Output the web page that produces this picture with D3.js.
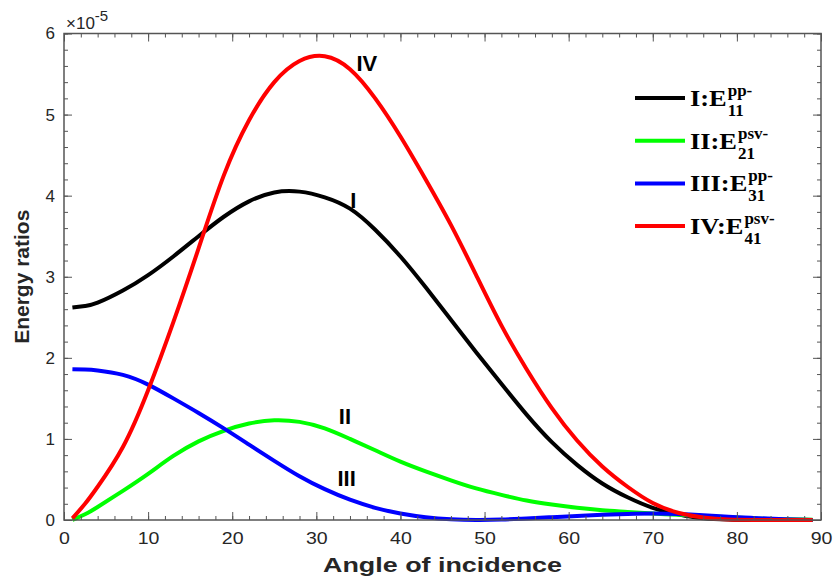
<!DOCTYPE html>
<html>
<head>
<meta charset="utf-8">
<script src="https://cdn.jsdelivr.net/npm/d3@7"></script>
<style>
  body { margin: 0; background: #fff; }
  svg { display: block; }
</style>
</head>
<body>
<div id="chart"></div>
<script>
/* global d3 */

// angle of incidence (degrees)
const angles = [1, 2.5, 4, 7, 10, 13, 16, 19, 22, 25, 28, 31, 34, 37, 40, 43, 46, 49, 52, 55, 58,
                61, 64, 67, 70, 73, 76, 79, 82, 85, 88, 89];

// energy ratios, units of 1e-5
const seriesI   = [2.62, 2.64, 2.68, 2.83, 3.02, 3.25, 3.5, 3.74, 3.93, 4.04, 4.05, 3.98, 3.84, 3.58, 3.25, 2.87, 2.47, 2.07, 1.68, 1.3, 0.96,
                   0.68, 0.45, 0.28, 0.15, 0.07, 0.02, 0.005, 0, 0, 0, 0];
const seriesII  = [0, 0.07, 0.16, 0.36, 0.57, 0.79, 0.97, 1.1, 1.19, 1.23, 1.21, 1.13, 1.0, 0.86, 0.72, 0.6, 0.49, 0.39, 0.31, 0.24, 0.19,
                   0.15, 0.12, 0.1, 0.08, 0.065, 0.05, 0.035, 0.02, 0.012, 0.005, 0.003];
const seriesIII = [1.86, 1.856, 1.845, 1.79, 1.67, 1.5, 1.32, 1.13, 0.93, 0.73, 0.54, 0.38, 0.25, 0.15, 0.08, 0.035, 0.01, 0, 0.005, 0.02, 0.035,
                   0.05, 0.065, 0.075, 0.08, 0.075, 0.06, 0.04, 0.025, 0.012, 0.003, 0];
const seriesIV  = [0.02, 0.2, 0.41, 0.9, 1.6, 2.44, 3.35, 4.25, 4.93, 5.4, 5.66, 5.72, 5.56, 5.2, 4.73, 4.2, 3.64, 3.02, 2.4, 1.86, 1.38,
                   0.98, 0.66, 0.41, 0.21, 0.09, 0.03, 0.005, 0, 0, 0, 0];

const seriesNames = ["I", "II", "III", "IV"];
const seriesColors = ["#000000", "#00ff00", "#0000ff", "#ff0000"];
const legendMain = ["I:E", "II:E", "III:E", "IV:E"];
const legendSup = ["pp-", "psv-", "pp-", "psv-"];
const legendSub = ["11", "21", "31", "41"];

// curve labels, in data coordinates
const curveLabels = [
  { text: "IV", x: 36.0, y: 5.64 },
  { text: "I", x: 34.4, y: 3.95 },
  { text: "II", x: 33.4, y: 1.28 },
  { text: "III", x: 33.6, y: 0.52 }
];

const xTicks = [0, 10, 20, 30, 40, 50, 60, 70, 80, 90];
const yTicks = [0, 1, 2, 3, 4, 5, 6];

var width = 833;
var height = 579;
var margin = { top: 33.5, right: 12, bottom: 59, left: 64 };

var x = d3.scaleLinear().domain([0, 90]).range([margin.left, width - margin.right]);
var y = d3.scaleLinear().domain([0, 6]).range([height - margin.bottom, margin.top]);

const svg = d3.select("#chart")
    .append("svg")
    .attr("width", width)
    .attr("height", height);

var axisColor = "#555";
var sans = "'Liberation Sans', Arial, Helvetica, sans-serif";
var serif = "'Liberation Serif', 'Times New Roman', serif";

// curves
var allSeries = [seriesI, seriesII, seriesIII, seriesIV];
var line = d3.line()
    .x(d => x(d[0]))
    .y(d => y(Math.max(0, d[1])))
    .curve(d3.curveNatural);

svg.append("g")
    .selectAll("path")
    .data(allSeries)
    .enter().append("path")
    .attr("fill", "none")
    .attr("stroke", (d, i) => seriesColors[i])
    .attr("stroke-width", 4)
    .attr("stroke-linejoin", "round")
    .attr("d", d => line(angles.map((a, i) => [a, d[i]])));

// axes (box with ticks on every side, pointing inward)
function styleAxis(g) {
    g.select(".domain").remove();
    g.selectAll("line").attr("stroke", axisColor).attr("stroke-width", 1);
    g.selectAll("text").attr("fill", "#262626").style("font-family", sans).style("font-size", "17px");
}

var xMinor = d3.range(0, 91, 2);
var yMinor = d3.range(0, 6.01, 0.2);

function addTicks(axis, pos, values, len) {
    svg.append("g")
        .attr("transform", pos)
        .call(axis.tickValues(values).tickSize(len).tickFormat(""))
        .call(styleAxis);
}

addTicks(d3.axisTop(x), `translate(0,${y(0)})`, xMinor, 4);
addTicks(d3.axisBottom(x), `translate(0,${y(6)})`, xMinor, 4);
addTicks(d3.axisRight(y), `translate(${x(0)},0)`, yMinor, 4);
addTicks(d3.axisLeft(y), `translate(${x(90)},0)`, yMinor, 4);
addTicks(d3.axisBottom(x), `translate(0,${y(6)})`, xTicks, 8);
addTicks(d3.axisLeft(y), `translate(${x(90)},0)`, yTicks, 8);
addTicks(d3.axisRight(y), `translate(${x(0)},0)`, yTicks, 8);

// labelled axes
svg.append("g")
    .attr("transform", `translate(0,${y(0)})`)
    .call(d3.axisBottom(x).tickValues(xTicks).tickSize(-8).tickPadding(12).tickFormat(d3.format("d")))
    .call(styleAxis)
    .call(g => g.selectAll("text").attr("transform", "scale(1.15,1)"));

svg.append("g")
    .attr("transform", `translate(${x(0)},0)`)
    .call(d3.axisLeft(y).tickValues(yTicks).tickSize(0).tickPadding(9).tickFormat(d3.format("d")))
    .call(styleAxis);

// box
svg.append("rect")
    .attr("x", x(0))
    .attr("y", y(6))
    .attr("width", x(90) - x(0))
    .attr("height", y(0) - y(6))
    .attr("fill", "none")
    .attr("stroke", axisColor)
    .attr("stroke-width", 1.5);

// exponent
var expo = svg.append("text")
    .attr("x", x(0) + 2)
    .attr("y", y(6) - 5)
    .attr("fill", "#262626")
    .style("font-family", sans)
    .style("font-size", "17px");
expo.append("tspan").text("\u00d710");
expo.append("tspan").attr("dy", -8).style("font-size", "15px").text("-5");

// axis titles
svg.append("text")
    .attr("x", (x(0) + x(90)) / 2)
    .attr("y", 572)
    .attr("text-anchor", "middle")
    .attr("textLength", 239)
    .attr("lengthAdjust", "spacingAndGlyphs")
    .attr("fill", "#262626")
    .style("font-family", sans)
    .style("font-weight", "bold")
    .style("font-size", "21px")
    .text("Angle of incidence");

svg.append("text")
    .attr("transform", `translate(29,${(y(0) + y(6)) / 2}) rotate(-90)`)
    .attr("text-anchor", "middle")
    .attr("fill", "#262626")
    .style("font-family", sans)
    .style("font-weight", "bold")
    .style("font-size", "21px")
    .text("Energy ratios");

// curve labels
svg.append("g")
    .selectAll("text")
    .data(curveLabels)
    .enter().append("text")
    .attr("x", d => x(d.x))
    .attr("y", d => y(d.y))
    .attr("dy", "0.36em")
    .attr("text-anchor", "middle")
    .style("font-family", sans)
    .style("font-weight", "bold")
    .style("font-size", "22px")
    .text(d => d.text);

// legend
var legend = svg.append("g").attr("transform", "translate(635,98)");
seriesNames.forEach(function (name, i) {
    var row = legend.append("g").attr("transform", `translate(0,${i * 42.7})`);
    row.append("line")
        .attr("x1", 0).attr("x2", 50)
        .attr("stroke", seriesColors[i])
        .attr("stroke-width", 4);
    var main = row.append("text")
        .attr("x", 55)
        .attr("y", 8)
        .style("font-family", serif)
        .style("font-weight", "bold")
        .style("font-size", "23px")
        .attr("transform", "translate(-8.25,0) scale(1.15,1)")
        .text(legendMain[i]);
    var w = main.node().getComputedTextLength() * 1.15;
    row.append("text")
        .attr("x", 55 + w + 1)
        .attr("y", -2)
        .style("font-family", serif)
        .style("font-weight", "bold")
        .style("font-size", "17px")
        .text(legendSup[i]);
    row.append("text")
        .attr("x", 55 + w + 1)
        .attr("y", 18)
        .style("font-family", serif)
        .style("font-weight", "bold")
        .style("font-size", "17px")
        .text(legendSub[i]);
});
</script>
</body>
</html>
